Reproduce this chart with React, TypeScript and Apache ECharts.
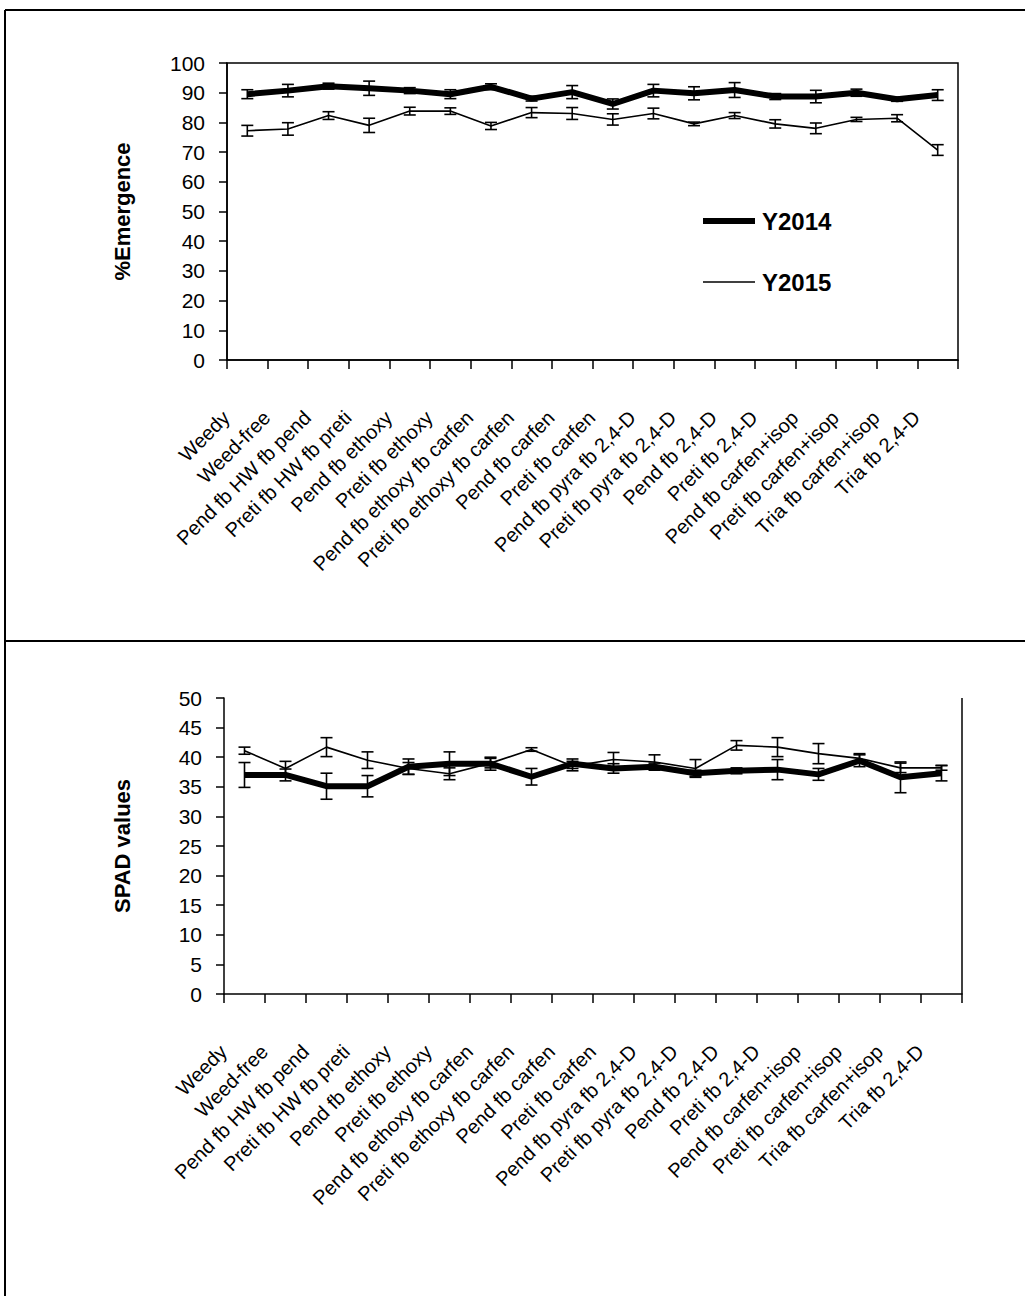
import React, { useEffect, useRef } from "react";
import * as echarts from "echarts";

const categories = [
  "Weedy",
  "Weed-free",
  "Pend fb HW fb pend",
  "Preti fb HW fb preti",
  "Pend fb ethoxy",
  "Preti fb ethoxy",
  "Pend fb ethoxy fb carfen",
  "Preti fb ethoxy fb carfen",
  "Pend fb carfen",
  "Preti fb carfen",
  "Pend fb pyra fb 2,4-D",
  "Preti fb pyra fb 2,4-D",
  "Pend fb 2,4-D",
  "Preti fb 2,4-D",
  "Pend fb carfen+isop",
  "Preti fb carfen+isop",
  "Tria fb carfen+isop",
  "Tria fb 2,4-D",
];

const seriesNames = ["Y2014", "Y2015"];

const emergence2014 = [89.5, 90.7, 92.2, 91.5, 90.7, 89.5, 92.0, 88.0, 90.2, 86.2, 90.7, 89.8, 90.9, 88.7, 88.7, 90.0, 87.8, 89.2];
const emergence2014Err = [1.5, 2.1, 1.0, 2.4, 1.0, 1.5, 1.0, 0.8, 2.2, 1.7, 2.1, 2.2, 2.5, 1.0, 2.1, 1.2, 0.7, 1.8];
const emergence2015 = [77.2, 77.8, 82.3, 79.0, 83.8, 83.8, 78.8, 83.3, 83.0, 81.0, 83.0, 79.5, 82.3, 79.5, 78.0, 81.0, 81.4, 70.7];
const emergence2015Err = [1.8, 2.1, 1.3, 2.4, 1.3, 1.1, 1.2, 1.7, 2.0, 1.9, 1.8, 0.6, 1.0, 1.4, 1.8, 0.7, 1.2, 1.8];

const spad2014 = [37.0, 37.0, 35.1, 35.1, 38.4, 38.9, 38.9, 36.7, 38.9, 38.1, 38.4, 37.3, 37.7, 37.9, 37.1, 39.4, 36.6, 37.3];
const spad2014Err = [2.1, 1.0, 2.2, 1.8, 1.3, 2.0, 1.1, 1.4, 0.8, 0.8, 0.6, 0.5, 0.5, 1.7, 1.0, 1.0, 2.6, 1.3];
const spad2015 = [41.1, 38.1, 41.7, 39.5, 38.1, 37.2, 39.0, 41.3, 38.5, 39.6, 39.2, 38.1, 42.0, 41.7, 40.6, 39.8, 38.2, 38.2];
const spad2015Err = [0.6, 1.2, 1.6, 1.4, 1.0, 1.0, 0.8, 0.3, 0.8, 1.2, 1.2, 1.5, 0.8, 1.6, 1.7, 0.8, 0.8, 0.4];

const FONT = "'Liberation Sans', Arial, sans-serif";

function errRender(params: any, api: any) {
  const x = api.value(0);
  const v = api.value(1);
  const e = api.value(2);
  const hi = api.coord([x, v + e]);
  const lo = api.coord([x, v - e]);
  const hw = 6;
  const style = { stroke: "#000", lineWidth: 1.6 };
  return {
    type: "group",
    children: [
      { type: "line", shape: { x1: hi[0], y1: hi[1], x2: lo[0], y2: lo[1] }, style },
      { type: "line", shape: { x1: hi[0] - hw, y1: hi[1], x2: hi[0] + hw, y2: hi[1] }, style },
      { type: "line", shape: { x1: lo[0] - hw, y1: lo[1], x2: lo[0] + hw, y2: lo[1] }, style },
    ],
  };
}

function errData(vals: number[], errs: number[]) {
  return vals.map((v, i) => [i, v, errs[i]]);
}

function xAxisCfg(gridIndex: number) {
  return {
    gridIndex,
    type: "category",
    data: categories,
    boundaryGap: true,
    axisLine: { show: true, lineStyle: { color: "#000", width: 1.5 } },
    axisTick: { show: true, interval: 0, length: 9, lineStyle: { color: "#000", width: 1.5 } },
    axisLabel: {
      interval: 0,
      rotate: 45,
      fontSize: 20,
      fontFamily: FONT,
      color: "#000",
      margin: 33,
      padding: [0, 30, 0, 0],
    },
    splitLine: { show: false },
  };
}

function yAxisCfg(gridIndex: number, max: number, interval: number, name: string, nameGap: number) {
  return {
    gridIndex,
    type: "value",
    min: 0,
    max,
    interval,
    name,
    nameLocation: "middle",
    nameRotate: 90,
    nameGap,
    nameTextStyle: { fontSize: 22, fontWeight: "bold", fontFamily: FONT, color: "#000" },
    axisLine: { show: true, lineStyle: { color: "#000", width: 1.5 } },
    axisTick: { show: true, length: 8, lineStyle: { color: "#000", width: 1.5 } },
    axisLabel: { fontSize: 21, fontFamily: FONT, color: "#000", margin: 22 },
    splitLine: { show: false },
  };
}

function lineSeries(name: string, idx: number, data: number[], width: number) {
  return {
    name,
    type: "line",
    xAxisIndex: idx,
    yAxisIndex: idx,
    data,
    symbol: "none",
    lineStyle: { color: "#000", width },
    z: 2,
  };
}

function errSeries(idx: number, vals: number[], errs: number[]) {
  return {
    type: "custom",
    xAxisIndex: idx,
    yAxisIndex: idx,
    renderItem: errRender,
    data: errData(vals, errs),
    encode: { x: 0, y: 1 },
    z: 3,
  };
}

export default function App() {
  const ref = useRef<HTMLDivElement>(null);
  useEffect(() => {
    if (!ref.current) return;
    const chart = echarts.init(ref.current, null, { renderer: "svg" });
    const frame = { stroke: "#000", lineWidth: 2 };
    chart.setOption({
      animation: false,
      backgroundColor: "#fff",
      textStyle: { fontFamily: FONT },
      grid: [
        { left: 227, top: 63, width: 731, height: 297, show: true, borderColor: "#000", borderWidth: 1.5 },
        { left: 224, top: 698, width: 738, height: 296 },
      ],
      xAxis: [xAxisCfg(0), xAxisCfg(1)],
      yAxis: [
        yAxisCfg(0, 100, 10, "%Emergence", 94),
        yAxisCfg(1, 50, 5, "SPAD values", 91),
      ],
      graphic: [
        { type: "line", shape: { x1: 5, y1: 10, x2: 5, y2: 1296 }, style: frame },
        { type: "line", shape: { x1: 5, y1: 10, x2: 1025, y2: 10 }, style: frame },
        { type: "line", shape: { x1: 5, y1: 641, x2: 1025, y2: 641 }, style: frame },
        { type: "line", shape: { x1: 962, y1: 698, x2: 962, y2: 994 }, style: { stroke: "#000", lineWidth: 1.5 } },
        { type: "line", shape: { x1: 703, y1: 221, x2: 755, y2: 221 }, style: { stroke: "#000", lineWidth: 6 } },
        { type: "line", shape: { x1: 703, y1: 282, x2: 755, y2: 282 }, style: { stroke: "#000", lineWidth: 1.5 } },
        {
          type: "text",
          x: 762,
          y: 221,
          style: { text: seriesNames[0], fontSize: 24, fontWeight: "bold", fontFamily: FONT, fill: "#000", verticalAlign: "middle" },
        },
        {
          type: "text",
          x: 762,
          y: 282,
          style: { text: seriesNames[1], fontSize: 24, fontWeight: "bold", fontFamily: FONT, fill: "#000", verticalAlign: "middle" },
        },
      ],
      series: [
        lineSeries(seriesNames[0], 0, emergence2014, 6),
        lineSeries(seriesNames[1], 0, emergence2015, 1.6),
        errSeries(0, emergence2014, emergence2014Err),
        errSeries(0, emergence2015, emergence2015Err),
        lineSeries(seriesNames[0], 1, spad2014, 6),
        lineSeries(seriesNames[1], 1, spad2015, 1.6),
        errSeries(1, spad2014, spad2014Err),
        errSeries(1, spad2015, spad2015Err),
      ],
    });
    return () => chart.dispose();
  }, []);
  return (
    <div
      ref={ref}
      style={{ position: "absolute", left: 0, top: 0, width: 1025, height: 1296 }}
    />
  );
}
